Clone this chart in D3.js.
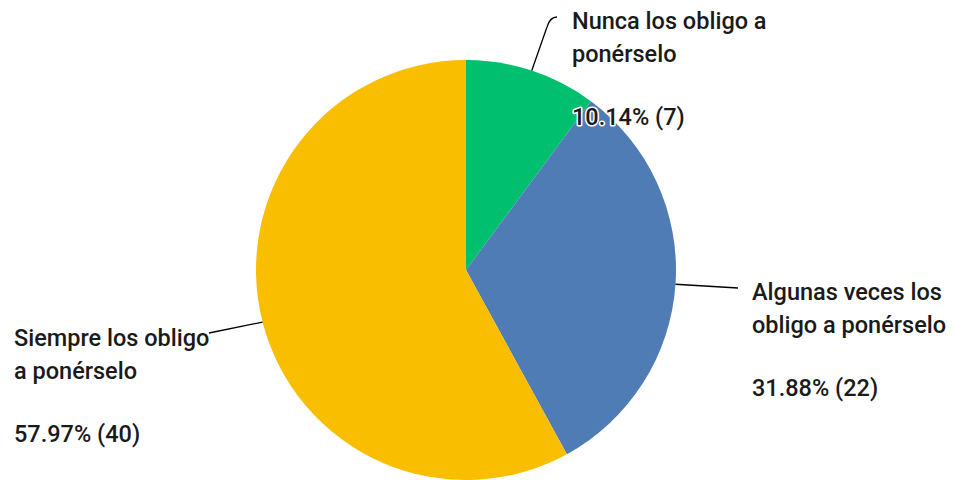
<!DOCTYPE html>
<html lang="es">
<head>
    <meta charset="UTF-8">
    <script src="https://d3js.org/d3.v7.min.js"></script>
    <title>Pie</title>
    <style>
        body { margin: 0; background: #fff; }
        .lbl {
            font-family: Roboto, "Noto Sans", sans-serif;
            font-weight: 500;
            font-size: 23.5px;
            fill: #1a1a1a;
            stroke: #fff;
            stroke-width: 3px;
            paint-order: stroke;
            stroke-linejoin: round;
        }
        .leader { fill: none; stroke: #000; stroke-width: 1.3px; }
    </style>
</head>
<body>
<div id="chart"></div>
<script>
    // data
    var categories = ["Nunca los obligo a ponérselo", "Algunas veces los obligo a ponérselo", "Siempre los obligo a ponérselo"];
    var percents = [10.14, 31.88, 57.97];
    var counts = [7, 22, 40];
    var colors = ["#00bf6f", "#507cb6", "#f9be00"];
    var labelLines = [["Nunca los obligo a", "ponérselo"], ["Algunas veces los", "obligo a ponérselo"], ["Siempre los obligo", "a ponérselo"]];

    var width = 954, height = 480;
    var cx = 466, cy = 270, radius = 210;

    // label layout: x, y of first line, leader end point
    var labelPos = [
        {x: 572, y: 29, ex: 557, ey: 17},
        {x: 752, y: 300, ex: 738, ey: 288},
        {x: 14, y: 346, ex: 209, ey: 333}
    ];

    var svg = d3.select("#chart").append("svg")
        .attr("width", width).attr("height", height);

    var data = categories.map(function(c, i) {
        return {name: c, pct: percents[i], n: counts[i], color: colors[i], lines: labelLines[i], pos: labelPos[i]};
    });

    var pie = d3.pie().sort(null).value(function(d) { return d.pct; });
    var arc = d3.arc().innerRadius(0).outerRadius(radius);
    var edge = d3.arc().innerRadius(radius).outerRadius(radius);
    var arcs = pie(data);

    var g = svg.append("g").attr("transform", "translate(" + cx + "," + cy + ")");
    g.selectAll("path.slice").data(arcs).enter().append("path")
        .attr("class", "slice")
        .attr("d", arc)
        .attr("fill", function(d) { return d.data.color; });

    // leader lines
    arcs.forEach(function(a, i) {
        var c = edge.centroid(a);
        var sx = cx + c[0], sy = cy + c[1];
        var p = a.data.pos;
        var path = d3.path();
        path.moveTo(sx, sy);
        if (i === 0) {
            path.lineTo(p.ex - 10, p.ey + 10);
            path.quadraticCurveTo(p.ex - 7, p.ey, p.ex, p.ey);
        } else {
            path.lineTo(p.ex, p.ey);
        }
        svg.append("path").attr("class", "leader").attr("d", path.toString());
    });

    // labels
    var lh = 33;
    data.forEach(function(d) {
        var t = svg.append("text").attr("class", "lbl")
            .attr("x", d.pos.x).attr("y", d.pos.y);
        d.lines.forEach(function(l, j) {
            t.append("tspan").attr("x", d.pos.x).attr("y", d.pos.y + j * lh).text(l);
        });
        t.append("tspan").attr("x", d.pos.x).attr("y", d.pos.y + 2 * lh + 30)
            .text(d.pct.toFixed(2) + "% (" + d.n + ")");
    });
</script>
</body>
</html>
